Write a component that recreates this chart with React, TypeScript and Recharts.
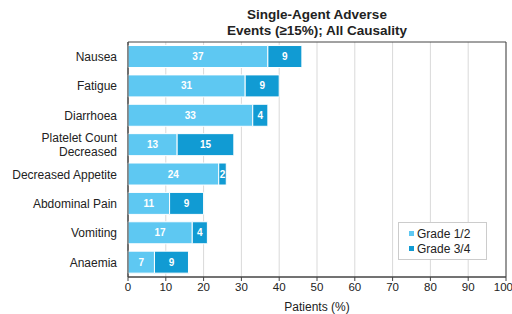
import { BarChart, Bar, XAxis, YAxis, CartesianGrid, Legend, LabelList, ReferenceArea } from 'recharts'

const events = [
  'Nausea',
  'Fatigue',
  'Diarrhoea',
  'Platelet Count\nDecreased',
  'Decreased Appetite',
  'Abdominal Pain',
  'Vomiting',
  'Anaemia',
]
const grade12 = [37, 31, 33, 13, 24, 11, 17, 7]
const grade34 = [9, 9, 4, 15, 2, 9, 4, 9]
const xTicks = [0, 10, 20, 30, 40, 50, 60, 70, 80, 90, 100]

const colors = {
  light: '#5ec8f2',
  dark: '#119bd3',
  text: '#222',
  grid: '#d9d9d9',
  frame: '#444',
}

const font = '"Liberation Sans", Arial, sans-serif'

const data = events.map((name, i) => ({ name, g12: grade12[i], g34: grade34[i] }))

function CategoryTick({ x, y, payload }: any) {
  const lines = String(payload.value).split('\n')
  const lh = 14
  const start = y - ((lines.length - 1) * lh) / 2
  return (
    <text x={x} y={start} textAnchor="end" fill={colors.text} fontSize={12} fontFamily={font}>
      {lines.map((l, i) => (
        <tspan key={i} x={x} y={start + i * lh} dy="0.36em">
          {l}
        </tspan>
      ))}
    </text>
  )
}

function LegendBox({ payload }: any) {
  return (
    <div
      style={{
        position: 'absolute',
        left: 398,
        top: 222,
        width: 89,
        padding: '3px 0 3px 10px',
        boxSizing: 'border-box',
        border: '1px solid #ccc',
        background: '#fff',
        fontFamily: font,
      }}
    >
      {(payload || []).map((p: any) => (
        <div key={p.value} style={{ display: 'flex', alignItems: 'center', height: 15, fontSize: 12, color: colors.text }}>
          <span style={{ display: 'inline-block', width: 5, height: 5, background: p.color, marginRight: 3 }} />
          {p.value}
        </div>
      ))}
    </div>
  )
}

export default function App() {
  return (
    <div style={{ position: 'absolute', left: 0, top: 0, width: 512, height: 314, background: '#fff', fontFamily: font }}>
      <div
        style={{
          position: 'absolute',
          left: 128,
          width: 378,
          top: 7,
          textAlign: 'center',
          fontWeight: 'bold',
          fontSize: 13.5,
          lineHeight: '16px',
          color: colors.text,
        }}
      >
        Single-Agent Adverse
        <br />
        Events (≥15%); All Causality
      </div>
      <BarChart
        width={512}
        height={314}
        data={data}
        layout="vertical"
        barCategoryGap="12%"
        margin={{ top: 42, right: 6, bottom: 0, left: 0 }}
      >
        <CartesianGrid horizontal={false} stroke={colors.grid} />
        <XAxis
          type="number"
          domain={[0, 100]}
          ticks={xTicks}
          height={37}
          tick={{ fill: colors.text, fontSize: 11.5, fontFamily: font }}
          tickSize={4}
          stroke={colors.frame}
          label={{ value: 'Patients (%)', position: 'insideBottom', offset: 3, fill: colors.text, fontSize: 12, fontFamily: font }}
        />
        <YAxis
          type="category"
          dataKey="name"
          width={128}
          tick={<CategoryTick />}
          tickLine={false}
          tickMargin={5}
          stroke={colors.frame}
          interval={0}
        />
        <Bar dataKey="g12" name="Grade 1/2" stackId="a" fill={colors.light} stroke="#fff" strokeWidth={1} isAnimationActive={false}>
          <LabelList dataKey="g12" position="center" fill="#fff" fontSize={10} fontWeight="bold" fontFamily={font} />
        </Bar>
        <Bar dataKey="g34" name="Grade 3/4" stackId="a" fill={colors.dark} stroke="#fff" strokeWidth={1} isAnimationActive={false}>
          <LabelList dataKey="g34" position="center" fill="#fff" fontSize={10} fontWeight="bold" fontFamily={font} />
        </Bar>
        <ReferenceArea x1={0} x2={100} fill="none" stroke={colors.frame} strokeWidth={1} />
        <Legend layout="horizontal" verticalAlign="middle" align="center" content={<LegendBox />} wrapperStyle={{ left: 0, top: 0, width: 0, height: 0 }} />
      </BarChart>
    </div>
  )
}
